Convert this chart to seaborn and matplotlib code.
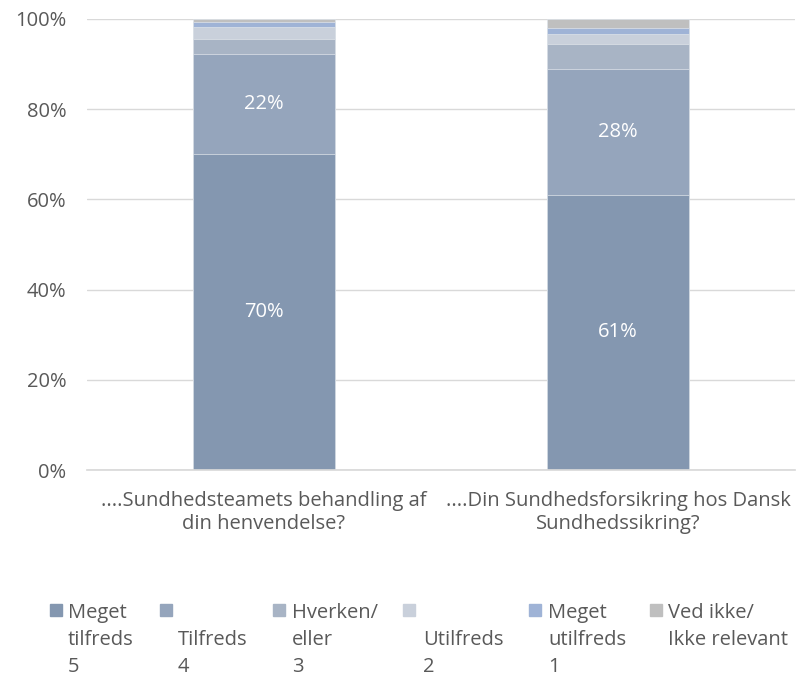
import pandas as pd
import numpy as np
import seaborn as sns
import matplotlib.pyplot as plt
from matplotlib.patches import Rectangle

# --- data ---
categories = ['....Sundhedsteamets behandling af\ndin henvendelse?',
              '....Din Sundhedsforsikring hos Dansk\nSundhedssikring?']
levels = ['Meget tilfreds 5', 'Tilfreds 4', 'Hverken/ eller 3',
          'Utilfreds 2', 'Meget utilfreds 1', 'Ved ikke/ Ikke relevant']
legend_lines = [['Meget', 'tilfreds', '5'], ['', 'Tilfreds', '4'],
                ['Hverken/', 'eller', '3'], ['', 'Utilfreds', '2'],
                ['Meget', 'utilfreds', '1'], ['Ved ikke/', 'Ikke relevant']]
pct_team = [70, 22.2, 3.4, 2.6, 1.1, 0.7]
pct_forsikring = [61, 28, 5.5, 2.2, 1.4, 1.9]
colors = ['#8497B0', '#95A5BC', '#A8B4C5', '#C9D0DB', '#9FB3D6', '#BFBFBF']

df = pd.DataFrame({'Kategori': np.repeat(categories, len(levels)),
                   'Svar': levels * 2,
                   'Pct': pct_team + pct_forsikring})
df['Top'] = df.groupby('Kategori')['Pct'].cumsum()
df['Mid'] = df['Top'] - df['Pct'] / 2

sns.set_theme(style='white')
plt.rcParams['font.family'] = ['Open Sans', 'DejaVu Sans']
TXT = '#595959'
FS = 14.5

fig = plt.figure(figsize=(7.96, 6.76), dpi=100)
ax = fig.add_axes([87 / 796, 1 - 470 / 676, 708 / 796, 451 / 676])

# stacked bars: draw the cumulative totals from the top down
for lvl, col in reversed(list(zip(levels, colors))):
    sub = df[df['Svar'] == lvl]
    sns.barplot(data=sub, x='Kategori', y='Top', order=categories, color=col,
                saturation=1, width=0.4, edgecolor='#dfe4ea', linewidth=0.5,
                ax=ax, errorbar=None)

# labels on the big segments
for _, r in df[df['Pct'] >= 10].iterrows():
    ax.text(categories.index(r['Kategori']), r['Mid'], f"{r['Pct']:.0f}%",
            ha='center', va='center', color='white', fontsize=FS)

ax.set_ylim(0, 100)
ax.set_xlim(-0.5, 1.5)
ax.set_yticks(range(0, 101, 20))
ax.set_yticklabels([f'{v}%' for v in range(0, 101, 20)])
ax.yaxis.grid(True, color='#d9d9d9', linewidth=1)
ax.set_axisbelow(True)
for s in ['left', 'right', 'top']:
    ax.spines[s].set_visible(False)
ax.spines['bottom'].set_color('#d9d9d9')
ax.tick_params(axis='both', length=0, labelsize=FS, labelcolor=TXT)
ax.tick_params(axis='y', pad=15)
ax.tick_params(axis='x', pad=15)
for t in ax.get_xticklabels():
    t.set_linespacing(1.22)
ax.set_xlabel('')
ax.set_ylabel('')

# legend below the chart
mark_x = [50, 160, 273, 403, 529, 650]
text_x = [68, 178, 292, 423, 548, 668]
for mx, tx, col, lines in zip(mark_x, text_x, colors, legend_lines):
    fig.patches.append(Rectangle((mx / 796, 1 - 616 / 676), 12 / 796, 12 / 676,
                                 transform=fig.transFigure, color=col))
    for i, line in enumerate(lines):
        if line:
            fig.text(tx / 796, 1 - (618 + 27 * i) / 676, line, fontsize=FS,
                     color=TXT, ha='left', va='baseline')

fig.savefig('out.png', dpi=100)
